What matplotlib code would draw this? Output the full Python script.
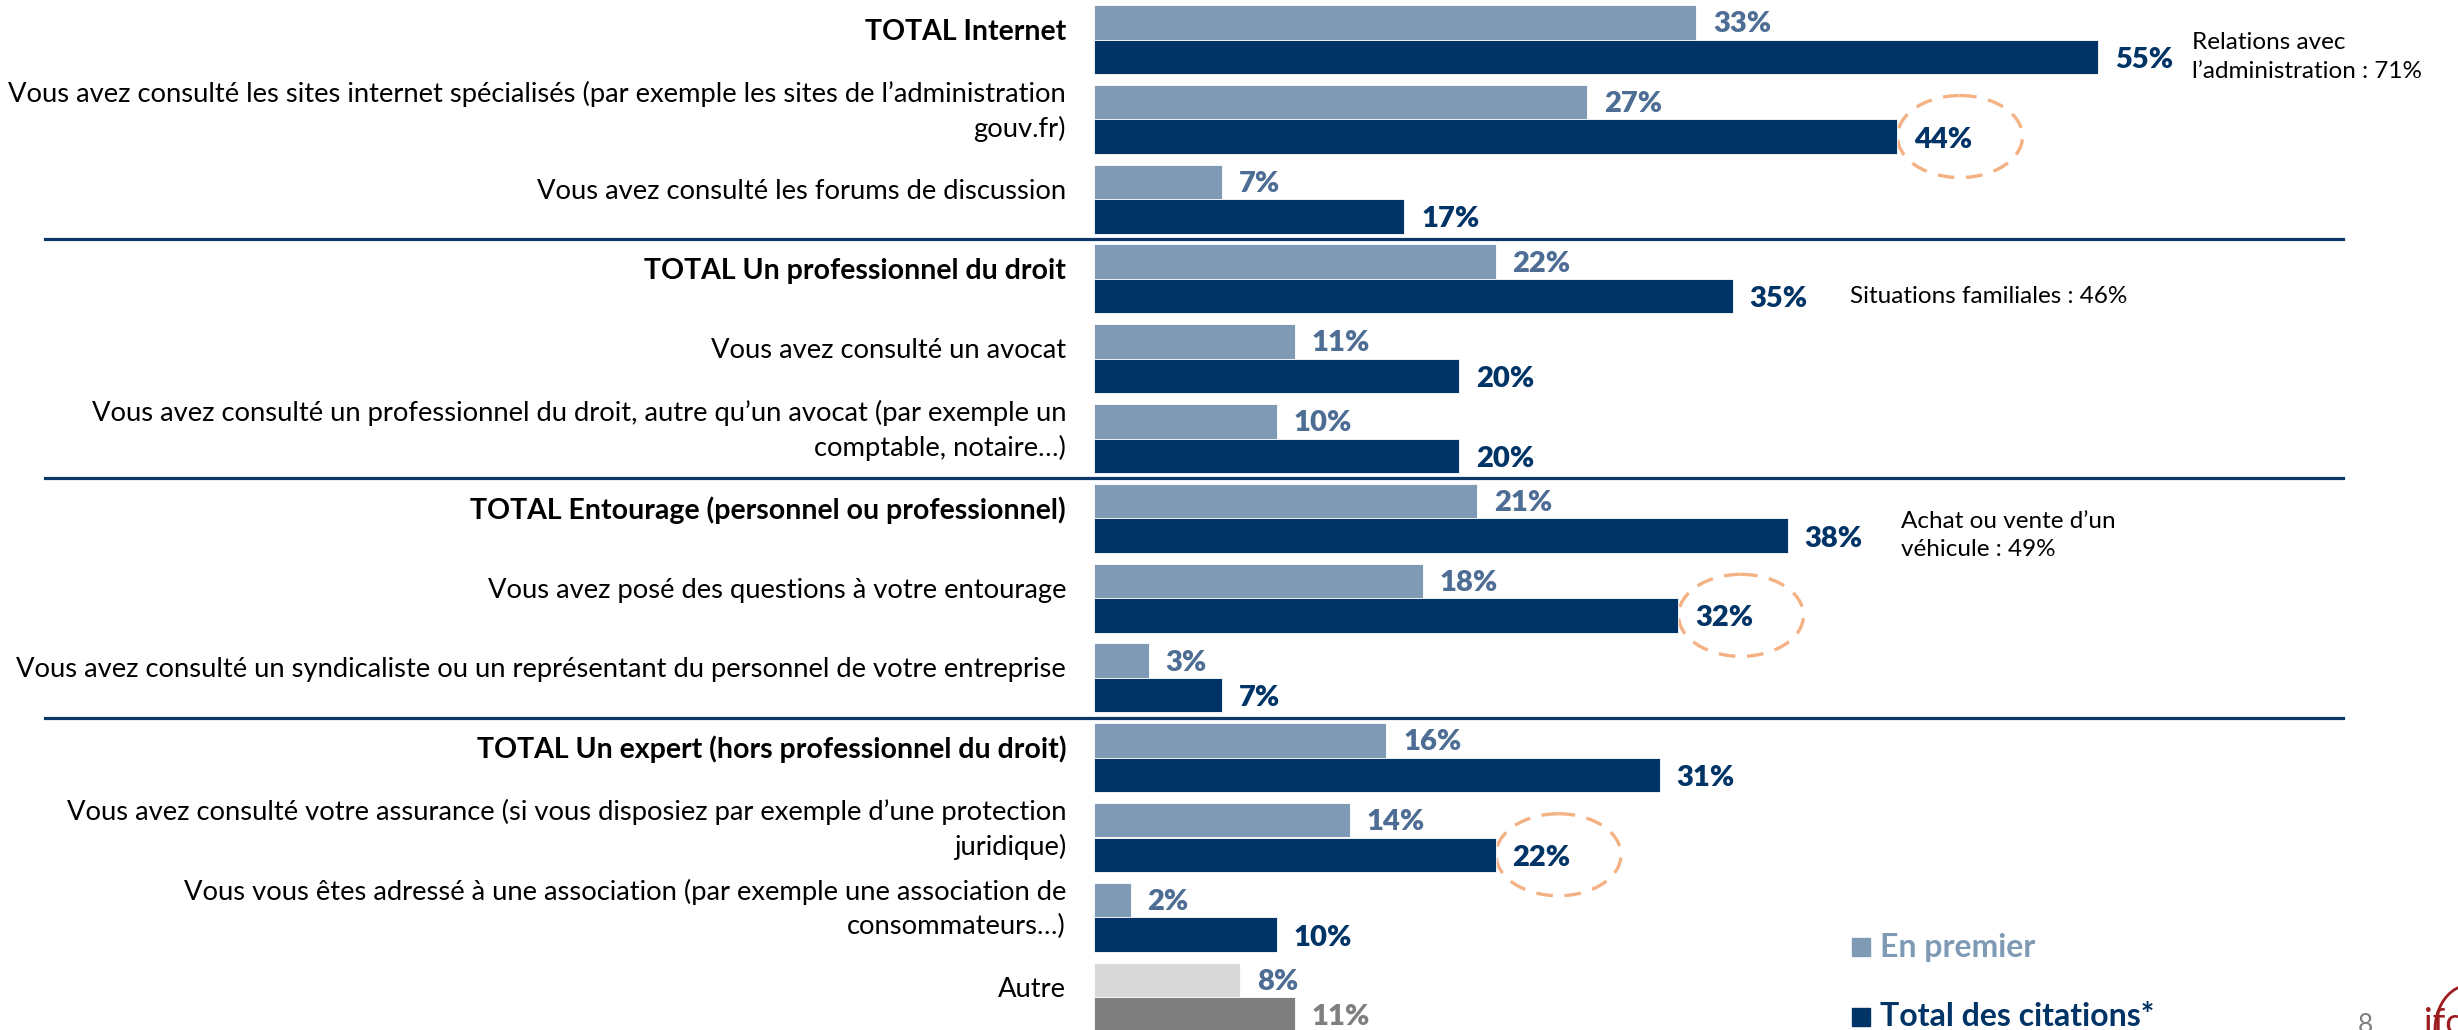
"""Recreate the 'sources consulted' horizontal bar chart (En premier / Total des citations)."""

import matplotlib

matplotlib.use("Agg")

import matplotlib.pyplot as plt
import numpy as np
from matplotlib.patches import Arc, Ellipse, Rectangle

CATEGORIES = [
    "TOTAL Internet",
    "Vous avez consulté les sites internet spécialisés (par exemple les sites de l’administration\ngouv.fr)",
    "Vous avez consulté les forums de discussion",
    "TOTAL Un professionnel du droit",
    "Vous avez consulté un avocat",
    "Vous avez consulté un professionnel du droit, autre qu’un avocat (par exemple un\ncomptable, notaire…)",
    "TOTAL Entourage (personnel ou professionnel)",
    "Vous avez posé des questions à votre entourage",
    "Vous avez consulté un syndicaliste ou un représentant du personnel de votre entreprise",
    "TOTAL Un expert (hors professionnel du droit)",
    "Vous avez consulté votre assurance (si vous disposiez par exemple d’une protection\njuridique)",
    "Vous vous êtes adressé à une association (par exemple une association de\nconsommateurs…)",
    "Autre",
]
EN_PREMIER = [33, 27, 7, 22, 11, 10, 21, 18, 3, 16, 14, 2, 8]
TOTAL_CITATIONS = [55, 44, 17, 35, 20, 20, 38, 32, 7, 31, 22, 10, 11]
TOTAL_ROWS = [0, 3, 6, 9]
CIRCLED_ROWS = [1, 7, 10]
NOTE_ROWS = [0, 3, 6]
NOTE_TEXTS = [
    "Relations avec\nl’administration : 71%",
    "Situations familiales : 46%",
    "Achat ou vente d’un\nvéhicule : 49%",
]
LEGEND_LABELS = ["En premier", "Total des citations*"]

# colours
LIGHT_BLUE = "#7F9AB5"
DARK_BLUE = "#003366"
LIGHT_LABEL = "#4E6D94"
OTHER_LIGHT = "#D9D9D9"
OTHER_DARK = "#7F7F7F"
CIRCLE_ORANGE = "#F4B183"

# layout, in output pixels
WIDTH_PX, HEIGHT_PX = 2458, 1030
DPI = 100
PX_PER_PCT = 18.25
BAR_LEFT_PX = 1094
ROW_PX = 79.8
FIRST_ROW_CENTER_PX = 39.5
BAR_PX = 34.5
NOTE_OFFSETS_PX = [94, 117, 113]

FONT = "Lato"
plt.rcParams["font.family"] = [FONT, "DejaVu Sans"]

figure = plt.figure(figsize=(WIDTH_PX / DPI, HEIGHT_PX / DPI), dpi=DPI)
axis = figure.add_axes([0, 0, 1, 1])
axis.axis("off")
axis.set_xlim(-BAR_LEFT_PX / PX_PER_PCT, (WIDTH_PX - BAR_LEFT_PX) / PX_PER_PCT)
axis.set_ylim(
    (HEIGHT_PX - FIRST_ROW_CENTER_PX) / ROW_PX, -FIRST_ROW_CENTER_PX / ROW_PX
)

rows = np.arange(len(CATEGORIES))
half = BAR_PX / 2 / ROW_PX
bar_height = BAR_PX / ROW_PX
light_colors = [LIGHT_BLUE] * (len(rows) - 1) + [OTHER_LIGHT]
dark_colors = [DARK_BLUE] * (len(rows) - 1) + [OTHER_DARK]

axis.barh(rows - half, EN_PREMIER, height=bar_height, color=light_colors,
          edgecolor="white", linewidth=0.6, zorder=3)
axis.barh(rows + half, TOTAL_CITATIONS, height=bar_height, color=dark_colors,
          edgecolor="white", linewidth=0.6, zorder=3)

for row, (label, first, total) in enumerate(zip(CATEGORIES, EN_PREMIER, TOTAL_CITATIONS)):
    is_total = row in TOTAL_ROWS
    axis.annotate(
        label, xy=(0, row), xytext=(-28, 8), textcoords="offset pixels",
        ha="right", va="center", multialignment="right",
        fontsize=20.5 if is_total else 19.7,
        fontweight="bold" if is_total else "normal",
        color="black", linespacing=1.45,
    )
    axis.annotate(
        f"{first}%", xy=(first, row - half), xytext=(17, -2),
        textcoords="offset pixels", ha="left", va="center",
        fontsize=21, fontweight="heavy", color=LIGHT_LABEL,
    )
    total_color = OTHER_DARK if row == len(rows) - 1 else DARK_BLUE
    axis.annotate(
        f"{total}%", xy=(total, row + half), xytext=(17, -3),
        textcoords="offset pixels", ha="left", va="center",
        fontsize=21, fontweight="heavy", color=total_color,
    )

# dashed circles around highlighted totals, drawn behind the bars
for row in CIRCLED_ROWS:
    circle = Ellipse(
        (TOTAL_CITATIONS[row] + 63 / PX_PER_PCT, row + half),
        width=125 / PX_PER_PCT, height=82 / ROW_PX,
        fill=False, edgecolor=CIRCLE_ORANGE, linewidth=2.4,
        linestyle=(0, (5, 3.5)), zorder=2,
    )
    axis.add_patch(circle)

# notes next to the TOTAL bars
for row, text, offset in zip(NOTE_ROWS, NOTE_TEXTS, NOTE_OFFSETS_PX):
    axis.annotate(
        text, xy=(TOTAL_CITATIONS[row], row + half), xytext=(offset, 0),
        textcoords="offset pixels", ha="left", va="center",
        multialignment="left", fontsize=17.5, color="black", linespacing=1.45,
    )

# separators between the four groups
for boundary in (2.5, 5.5, 8.5):
    axis.axhline(boundary, xmin=45 / WIDTH_PX, xmax=2343 / WIDTH_PX,
                 color="#0B3869", linewidth=2.3, zorder=1)

# legend
for (label, color), y_px in zip(zip(LEGEND_LABELS, [LIGHT_BLUE, DARK_BLUE]), [83, 13]):
    figure.add_artist(Rectangle((1852, y_px - 9), 18, 18, color=color,
                                transform=None))
    figure.text(1880 / WIDTH_PX, y_px / HEIGHT_PX, label, ha="left",
                va="center", fontsize=23, fontweight="bold", color=color)

# page number and cut-off logo in the corner
figure.text(2358 / WIDTH_PX, -8 / HEIGHT_PX, "8", ha="left", va="bottom",
            fontsize=19, color="#7F7F7F")
figure.text(2424 / WIDTH_PX, -10 / HEIGHT_PX, "ifop", ha="left", va="bottom",
            fontsize=26, color="#9B1B1E")
figure.add_artist(Arc((2470, 0), 70, 90, theta1=90, theta2=200,
                      color="#9B1B1E", linewidth=2, transform=None))

figure.savefig("out.png", dpi=DPI)
